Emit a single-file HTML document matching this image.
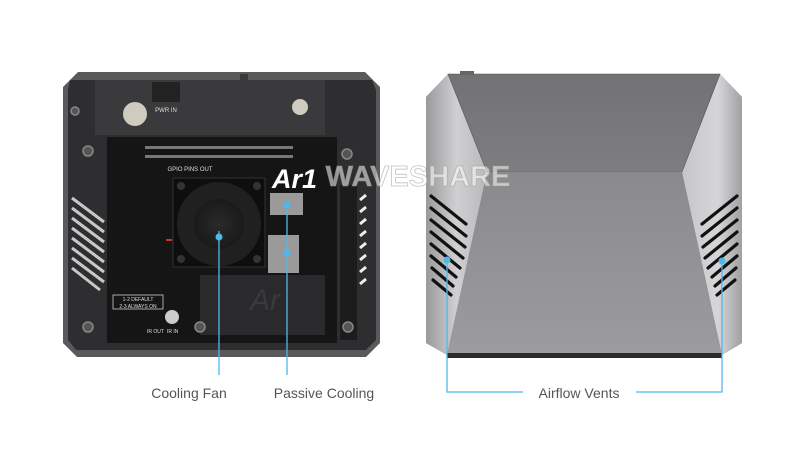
<!DOCTYPE html>
<html><head><meta charset="utf-8"><style>
html,body{margin:0;padding:0;background:#fff;width:800px;height:453px;overflow:hidden}
svg{display:block}
</style></head><body>
<svg width="800" height="453" viewBox="0 0 800 453" xmlns="http://www.w3.org/2000/svg">
<defs>
<linearGradient id="lside" x1="0" y1="0" x2="1" y2="0"><stop offset="0" stop-color="#9a9a9c"/><stop offset="0.5" stop-color="#d0d0d2"/><stop offset="1" stop-color="#b8b8ba"/></linearGradient>
<linearGradient id="rside" x1="0" y1="0" x2="1" y2="0"><stop offset="0" stop-color="#c6c6c8"/><stop offset="0.6" stop-color="#d6d6d8"/><stop offset="1" stop-color="#a0a0a2"/></linearGradient>
<linearGradient id="front" x1="0" y1="0" x2="0" y2="1"><stop offset="0" stop-color="#8a8a8c"/><stop offset="1" stop-color="#9c9c9e"/></linearGradient>
<linearGradient id="top" x1="0" y1="0" x2="0" y2="1"><stop offset="0" stop-color="#727274"/><stop offset="1" stop-color="#7e7e80"/></linearGradient>
<radialGradient id="fan"><stop offset="0" stop-color="#2a2a2a"/><stop offset="1" stop-color="#1a1a1a"/></radialGradient>
</defs>

<!-- LEFT CASE -->
<polygon points="78,72 365,72 380,87 380,343 366,357 77,357 63,343 63,87" fill="#5a5a5c"/>
<polygon points="70,80 372,80 376,90 376,340 366,350 76,350 68,340 68,90" fill="#2e2e30"/>
<!-- top connectors area -->
<rect x="95" y="80" width="230" height="55" fill="#3a3a3c"/>
<circle cx="135" cy="114" r="12" fill="#cfcbbf"/>
<circle cx="300" cy="107" r="8" fill="#cfcbbf"/>
<rect x="152" y="82" width="28" height="20" fill="#222"/>
<text x="166" y="112" font-family="Liberation Sans, sans-serif" font-size="6" fill="#ddd" text-anchor="middle">PWR IN</text>
<rect x="240" y="74" width="8" height="34" fill="#3a3a3c"/>
<!-- board -->
<rect x="107" y="137" width="230" height="206" fill="#151516"/>
<!-- gpio -->
<g fill="#777">
<rect x="145" y="146" width="148" height="3"/>
<rect x="145" y="155" width="148" height="3"/>
</g>
<text x="190" y="171" font-family="Liberation Sans, sans-serif" font-size="6" fill="#ddd" text-anchor="middle">GPIO PINS OUT</text>
<!-- fan -->
<rect x="173" y="178" width="92" height="89" fill="#0e0e0e" stroke="#333" stroke-width="1"/>
<circle cx="219" cy="224" r="42" fill="#202020"/>
<circle cx="219" cy="224" r="25" fill="url(#fan)"/>
<circle cx="181" cy="186" r="4" fill="#333"/><circle cx="257" cy="186" r="4" fill="#333"/>
<circle cx="181" cy="259" r="4" fill="#333"/><circle cx="257" cy="259" r="4" fill="#333"/>
<rect x="166" y="239" width="6" height="2" fill="#c33"/>
<!-- heatsinks -->
<rect x="270" y="193" width="33" height="22" fill="#9a9a9a"/>
<rect x="268" y="235" width="31" height="38" fill="#9a9a9a"/>
<!-- AR logo lower -->
<rect x="200" y="275" width="125" height="60" fill="#2a2a2c"/>
<text x="265" y="310" font-family="Liberation Sans, sans-serif" font-size="30" fill="#3a3a3c" text-anchor="middle" font-style="italic">Ar</text>
<!-- jumper labels -->
<rect x="113" y="295" width="50" height="14" fill="none" stroke="#ccc" stroke-width="0.8"/>
<text x="138" y="301" font-family="Liberation Sans, sans-serif" font-size="5" fill="#ddd" text-anchor="middle">1-2 DEFAULT</text>
<text x="138" y="308" font-family="Liberation Sans, sans-serif" font-size="5" fill="#ddd" text-anchor="middle">2-3 ALWAYS ON</text>
<circle cx="172" cy="317" r="7" fill="#ccc"/>
<text x="147" y="333" font-family="Liberation Sans, sans-serif" font-size="5" fill="#ddd">IR OUT</text>
<text x="167" y="333" font-family="Liberation Sans, sans-serif" font-size="5" fill="#ddd">IR IN</text>
<!-- left vents -->
<g stroke="#c8c8c8" stroke-width="3">
<line x1="72" y1="198" x2="104" y2="222"/><line x1="72" y1="208" x2="104" y2="232"/>
<line x1="72" y1="218" x2="104" y2="242"/><line x1="72" y1="228" x2="104" y2="252"/>
<line x1="72" y1="238" x2="104" y2="262"/><line x1="72" y1="248" x2="104" y2="272"/>
<line x1="72" y1="258" x2="104" y2="282"/><line x1="72" y1="268" x2="100" y2="290"/>
</g>
<!-- right connector column -->
<rect x="340" y="185" width="17" height="155" fill="#1c1c1c"/>
<g stroke="#eee" stroke-width="3">
<line x1="360" y1="200" x2="366" y2="195"/><line x1="360" y1="212" x2="366" y2="207"/>
<line x1="360" y1="224" x2="366" y2="219"/><line x1="360" y1="236" x2="366" y2="231"/>
<line x1="360" y1="248" x2="366" y2="243"/><line x1="360" y1="260" x2="366" y2="255"/>
<line x1="360" y1="272" x2="366" y2="267"/><line x1="360" y1="284" x2="366" y2="279"/>
</g>
<!-- screw posts -->
<g fill="#555" stroke="#888" stroke-width="1.5">
<circle cx="88" cy="327" r="5"/><circle cx="200" cy="327" r="5"/><circle cx="348" cy="327" r="5"/>
<circle cx="88" cy="151" r="5"/><circle cx="347" cy="154" r="5"/><circle cx="75" cy="111" r="4"/>
</g>
<text x="272" y="188" font-family="Liberation Sans, sans-serif" font-size="27" font-weight="bold" font-style="italic" fill="#fff">Ar1</text>

<!-- RIGHT CASE -->
<polygon points="448,74 720,74 742,97 742,343 722,355 447,355 426,343 426,97" fill="#8c8c8e"/>
<polygon points="448,74 487,172 447,355 426,343 426,97" fill="url(#lside)"/>
<polygon points="720,74 742,97 742,343 722,355 682,172" fill="url(#rside)"/>
<polygon points="448,74 720,74 682,172 487,172" fill="url(#top)" stroke="#555" stroke-width="0.6"/>
<polygon points="487,172 682,172 722,355 447,355" fill="url(#front)"/>
<rect x="447" y="353" width="275" height="5" fill="#2a2a2a"/>
<rect x="460" y="71" width="14" height="4" fill="#666"/>
<g stroke="#111" stroke-width="3.2" stroke-linecap="round">
<line x1="431" y1="196" x2="466" y2="224"/><line x1="431" y1="208" x2="466" y2="236"/>
<line x1="431" y1="220" x2="465" y2="247"/><line x1="431" y1="232" x2="463" y2="258"/>
<line x1="431" y1="244" x2="460" y2="268"/><line x1="431" y1="256" x2="456" y2="277"/>
<line x1="432" y1="268" x2="453" y2="286"/><line x1="433" y1="280" x2="451" y2="295"/>
<line x1="737" y1="196" x2="702" y2="224"/><line x1="737" y1="208" x2="702" y2="236"/>
<line x1="737" y1="220" x2="703" y2="247"/><line x1="737" y1="232" x2="705" y2="258"/>
<line x1="737" y1="244" x2="708" y2="268"/><line x1="737" y1="256" x2="712" y2="277"/>
<line x1="736" y1="268" x2="715" y2="286"/><line x1="735" y1="280" x2="717" y2="295"/>
</g>

<!-- watermark -->
<text x="418" y="186" font-family="Liberation Sans, sans-serif" font-size="29" font-weight="bold" fill="#ffffff" fill-opacity="0.55" stroke="#9a9a9a" stroke-opacity="0.6" stroke-width="0.8" text-anchor="middle">WAVESHARE</text>

<!-- callouts -->
<g stroke="#4fb8ea" stroke-width="1.3" fill="none">
<line x1="219" y1="231" x2="219" y2="375"/>
<line x1="287" y1="205" x2="287" y2="375"/>
<polyline points="447,260 447,392 523,392"/>
<polyline points="722,261 722,392 636,392"/>
</g>
<g fill="#4fb8ea">
<circle cx="219" cy="237" r="3.5"/><circle cx="287" cy="205" r="3.5"/><circle cx="287" cy="253" r="3.5"/>
<circle cx="447" cy="260" r="3.5"/><circle cx="722" cy="261" r="3.5"/>
</g>
<g font-family="Liberation Sans, sans-serif" font-size="14" fill="#555">
<text x="189" y="398" text-anchor="middle">Cooling Fan</text>
<text x="324" y="398" text-anchor="middle">Passive Cooling</text>
<text x="579" y="398" text-anchor="middle">Airflow Vents</text>
</g>
</svg>
</body></html>
